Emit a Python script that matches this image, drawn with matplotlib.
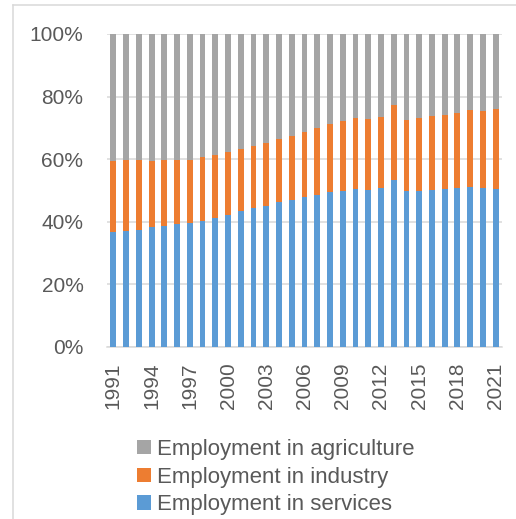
import numpy as np
import matplotlib
matplotlib.use("Agg")
import matplotlib.pyplot as plt
from matplotlib.ticker import PercentFormatter

# Employment shares, percent of total employment
years = list(range(1991, 2022))
services = [36.6, 37.2, 37.5, 38.2, 38.8, 39.2, 39.7, 40.4, 41.2, 42.2,
            43.3, 44.3, 45.2, 46.2, 47.1, 47.9, 48.7, 49.5, 50.0, 50.4,
            50.2, 50.7, 53.2, 49.7, 50.0, 50.3, 50.4, 50.9, 51.1, 50.7, 50.6]
# top of the orange segment (services + industry)
serv_ind = [59.4, 59.7, 59.6, 59.4, 59.6, 59.8, 59.9, 60.6, 61.3, 62.4,
            63.2, 64.2, 65.2, 66.3, 67.5, 68.7, 69.9, 71.1, 72.3, 73.3,
            72.8, 73.4, 77.4, 72.4, 73.1, 73.7, 74.2, 74.9, 75.6, 75.5, 76.0]
industry = [round(t - s, 1) for t, s in zip(serv_ind, services)]
agriculture = [round(100 - t, 1) for t in serv_ind]

tick_years = years[::3]

c_serv = "#5b9bd5"
c_ind = "#ed7d31"
c_agr = "#a5a5a5"
txt = "#595959"
grid = "#d9d9d9"

plt.rcParams["font.family"] = ["Liberation Sans", "DejaVu Sans"]

fig = plt.figure(figsize=(5.16, 5.19), dpi=100)
ax = fig.add_axes([107 / 516, 1 - 347 / 519, 395 / 516, 313 / 519])

x = np.arange(len(years))
w = 0.46
b1 = ax.bar(x, services, w, color=c_serv, label="Employment in services", zorder=3)
b2 = ax.bar(x, industry, w, bottom=services, color=c_ind,
            label="Employment in industry", zorder=3)
b3 = ax.bar(x, agriculture, w, bottom=serv_ind, color=c_agr,
            label="Employment in agriculture", zorder=3)

ax.set_xlim(-0.5, len(years) - 0.5)
ax.set_ylim(0, 100)
ax.set_yticks(np.arange(0, 101, 20))
ax.yaxis.set_major_formatter(PercentFormatter(decimals=0))
ax.grid(axis="y", color=grid, linewidth=1.1, zorder=0)
ax.set_axisbelow(True)

ticks = [years.index(y) for y in tick_years]
ax.set_xticks(ticks)
ax.set_xticklabels([str(y) for y in tick_years], rotation=90)

for s in ["top", "right", "left"]:
    ax.spines[s].set_visible(False)
ax.spines["bottom"].set_color(grid)
ax.spines["bottom"].set_linewidth(1.1)

ax.tick_params(axis="y", length=0, pad=17, labelsize=15, labelcolor=txt)
ax.tick_params(axis="x", length=0, pad=11, labelsize=15, labelcolor=txt)

leg = fig.legend(handles=[b3, b2, b1], loc="upper left",
                 bbox_to_anchor=(137 / 516, 1 - 439 / 519),
                 frameon=False, fontsize=16, labelcolor=txt,
                 handlelength=0.63, handleheight=0.63, handletextpad=0.27,
                 labelspacing=0.3, borderpad=0, borderaxespad=0)

# chart frame (left and top edges visible)
fig.add_artist(plt.Line2D([13 / 516, 13 / 516], [0, 1 - 5 / 519],
                          transform=fig.transFigure, color=grid, linewidth=1.1))
fig.add_artist(plt.Line2D([13 / 516, 1], [1 - 5 / 519, 1 - 5 / 519],
                          transform=fig.transFigure, color=grid, linewidth=1.1))

fig.savefig("out.png", dpi=100)
